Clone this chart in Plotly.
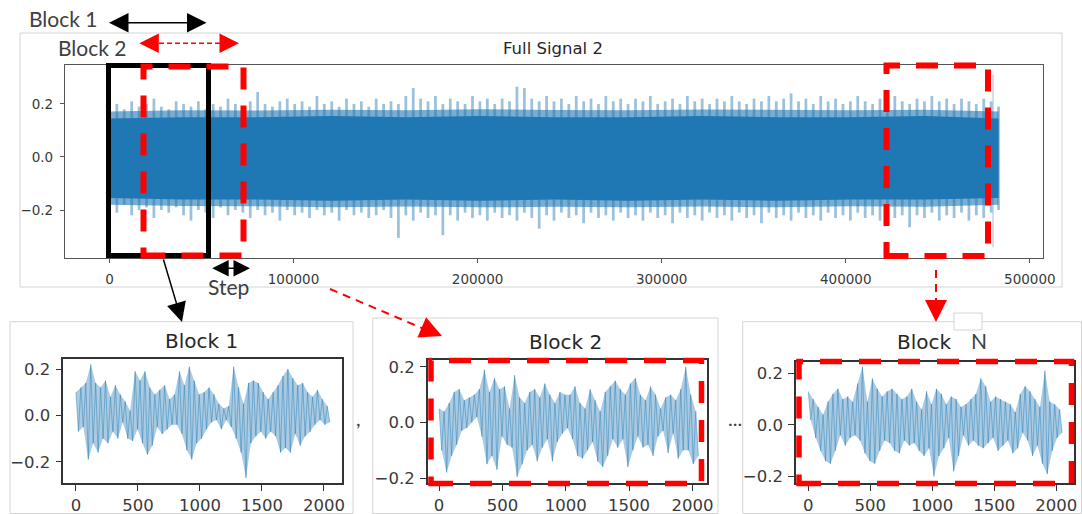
import numpy as np
import plotly.graph_objects as go

W, H = 1082, 514

# ---------------- data ----------------
n_samples = 483000
full_upper = [0.19, 0.20, 0.18, 0.21, 0.19, 0.20, 0.22, 0.19, 0.18, 0.21,
              0.20, 0.19, 0.21, 0.18, 0.20, 0.19, 0.22, 0.20, 0.19, 0.21,
              0.245, 0.20, 0.19, 0.21, 0.22, 0.20, 0.21, 0.19, 0.23, 0.20,
              0.21, 0.19, 0.22, 0.20, 0.21, 0.19, 0.22, 0.20, 0.21, 0.20,
              0.23, 0.26, 0.22, 0.21, 0.23, 0.20, 0.22, 0.21, 0.20, 0.23,
              0.21, 0.22, 0.20, 0.22, 0.21, 0.265, 0.26, 0.22, 0.21, 0.23,
              0.21, 0.22, 0.20, 0.23, 0.21, 0.22, 0.20, 0.23, 0.21, 0.22,
              0.20, 0.22, 0.21, 0.23, 0.20, 0.21, 0.22, 0.20, 0.23, 0.21,
              0.22, 0.20, 0.22, 0.21, 0.23, 0.21, 0.20, 0.22, 0.21, 0.23,
              0.21, 0.22, 0.24, 0.21, 0.22, 0.20, 0.23, 0.21, 0.22, 0.20,
              0.21, 0.23, 0.21, 0.20, 0.22, 0.21, 0.23, 0.21, 0.20, 0.22,
              0.21, 0.23, 0.21, 0.22, 0.20, 0.22, 0.21, 0.20, 0.22, 0.21,
              0.19]
full_lower = [-0.19, -0.21, -0.18, -0.22, -0.20, -0.19, -0.23, -0.20, -0.21, -0.19,
              -0.22, -0.24, -0.20, -0.21, -0.23, -0.19, -0.22, -0.20, -0.21, -0.23,
              -0.20, -0.22, -0.21, -0.24, -0.20, -0.22, -0.21, -0.23, -0.20, -0.22,
              -0.21, -0.24, -0.20, -0.22, -0.21, -0.23, -0.22, -0.20, -0.23, -0.305,
              -0.22, -0.24, -0.21, -0.23, -0.22, -0.295, -0.22, -0.24, -0.21, -0.23,
              -0.22, -0.24, -0.21, -0.23, -0.22, -0.24, -0.21, -0.23, -0.27, -0.22,
              -0.24, -0.21, -0.23, -0.22, -0.25, -0.21, -0.23, -0.22, -0.24, -0.21,
              -0.23, -0.22, -0.24, -0.21, -0.23, -0.22, -0.25, -0.21, -0.23, -0.22,
              -0.24, -0.21, -0.23, -0.22, -0.24, -0.21, -0.23, -0.22, -0.25, -0.21,
              -0.23, -0.22, -0.24, -0.21, -0.23, -0.22, -0.24, -0.21, -0.23, -0.22,
              -0.24, -0.21, -0.23, -0.22, -0.24, -0.21, -0.23, -0.22, -0.265, -0.22,
              -0.23, -0.21, -0.24, -0.22, -0.23, -0.21, -0.24, -0.22, -0.23, -0.21,
              -0.20]
fringe_upper = [0.172, 0.176, 0.175, 0.178, 0.176, 0.18, 0.177, 0.176, 0.179, 0.177, 0.176, 0.178, 0.172]
fringe_lower = [-0.18, -0.185, -0.186, -0.19, -0.187, -0.19, -0.188, -0.19, -0.187, -0.19, -0.186, -0.188, -0.18]
core_upper = [0.145, 0.15, 0.15, 0.155, 0.15, 0.155, 0.15, 0.15, 0.155, 0.15, 0.15, 0.155, 0.145]
core_lower = [-0.155, -0.16, -0.16, -0.165, -0.16, -0.165, -0.16, -0.165, -0.16, -0.165, -0.16, -0.16, -0.155]
end_spike_x = [480000, 480000]
end_spike_y = [0.31, -0.34]

block_len = 2047
block1_up = [0.10, 0.12, 0.14, 0.22, 0.14, 0.12, 0.15, 0.08, 0.13, 0.09, 0.06, 0.02, 0.19,
             0.15, 0.19, 0.12, 0.09, 0.11, 0.13, 0.07, 0.09, 0.19, 0.13, 0.21, 0.15, 0.09,
             0.10, 0.12, 0.09, 0.05, 0.03, 0.04, 0.21, 0.12, 0.05, 0.14, 0.15, 0.14, 0.10,
             0.07, 0.10, 0.13, 0.17, 0.20, 0.16, 0.13, 0.14, 0.10, 0.08, 0.11, 0.07, 0.04]
block1_lo = [-0.07, -0.05, -0.19, -0.12, -0.16, -0.10, -0.12, -0.07, -0.10, -0.03, -0.10, -0.11, -0.06,
             -0.12, -0.17, -0.13, -0.05, -0.08, -0.06, -0.04, -0.04, -0.08, -0.15, -0.19, -0.12, -0.10,
             -0.06, -0.03, -0.02, -0.06, -0.02, -0.05, -0.10, -0.16, -0.27, -0.12, -0.09, -0.07, -0.10,
             -0.07, -0.09, -0.16, -0.14, -0.16, -0.08, -0.13, -0.09, -0.07, -0.04, -0.02, -0.04, -0.03]
block2_up = [0.05, 0.04, 0.07, 0.11, 0.12, 0.08, 0.09, 0.10, 0.12, 0.19, 0.11, 0.16, 0.12,
             0.13, 0.05, 0.17, 0.09, 0.07, 0.11, 0.12, 0.09, 0.14, 0.10, 0.07, 0.11, 0.10,
             0.10, 0.13, 0.07, 0.05, 0.12, 0.08, 0.04, 0.11, 0.13, 0.15, 0.12, 0.10, 0.14,
             0.16, 0.10, 0.08, 0.13, 0.10, 0.05, 0.09, 0.10, 0.08, 0.12, 0.20, 0.10, 0.04]
block2_lo = [-0.10, -0.18, -0.12, -0.08, -0.03, -0.02, 0.00, 0.02, -0.05, -0.15, -0.12, -0.17, -0.05,
             -0.08, -0.09, -0.195, -0.15, -0.10, -0.08, -0.14, -0.09, -0.06, -0.14, -0.07, -0.04, -0.02,
             -0.06, -0.12, -0.13, -0.10, -0.07, -0.14, -0.16, -0.12, -0.06, -0.09, -0.06, -0.16, -0.10,
             -0.05, -0.09, -0.08, -0.12, -0.05, -0.03, -0.11, -0.04, -0.13, -0.10, -0.10, -0.15, -0.12]
blockN_up = [0.13, 0.10, 0.07, 0.04, 0.09, 0.12, 0.14, 0.10, 0.11, 0.09, 0.16, 0.225, 0.09,
             0.18, 0.14, 0.11, 0.13, 0.14, 0.12, 0.10, 0.11, 0.14, 0.09, 0.06, 0.13, 0.08,
             0.14, 0.12, 0.08, 0.11, 0.10, 0.07, 0.08, 0.10, 0.12, 0.18, 0.15, 0.09, 0.11,
             0.10, 0.09, 0.08, 0.05, 0.12, 0.15, 0.13, 0.10, 0.07, 0.21, 0.09, 0.08, 0.06]
blockN_lo = [0.02, -0.05, -0.10, -0.14, -0.15, -0.10, -0.04, -0.08, -0.05, -0.04, -0.06, -0.11, -0.14,
             -0.15, -0.10, -0.06, -0.07, -0.10, -0.11, -0.06, -0.08, -0.07, -0.10, -0.12, -0.09, -0.20,
             -0.12, -0.09, -0.05, -0.18, -0.12, -0.04, -0.08, -0.06, -0.08, -0.09, -0.07, -0.05, -0.10,
             -0.08, -0.06, -0.11, -0.09, -0.03, -0.06, -0.12, -0.08, -0.15, -0.19, -0.10, -0.05, -0.03]

main_xticks = [0, 100000, 200000, 300000, 400000, 500000]
yticks = [-0.2, 0.0, 0.2]
block_xticks = [0, 500, 1000, 1500, 2000]

BLUE = "#1f77b4"
RED = "#ff0000"
TICKFONT = "DejaVu Sans"
NOTEFONT = "Lato"


def X(p):
    return p / W


def Y(p):
    return 1 - p / H


fig = go.Figure()

# ---- main signal ----
mx = np.linspace(0, n_samples, len(full_upper))
cx = np.linspace(0, n_samples, len(core_upper))
for env in (full_upper, full_lower):
    fig.add_trace(go.Bar(x=mx, y=env, base=0, width=1500,
                         marker=dict(color="rgba(31,119,180,0.45)", line=dict(width=0)),
                         xaxis="x", yaxis="y", showlegend=False, hoverinfo="skip"))
fig.add_trace(go.Scatter(x=cx, y=fringe_lower, mode="lines", line=dict(width=0, color=BLUE),
                         xaxis="x", yaxis="y", showlegend=False, hoverinfo="skip"))
fig.add_trace(go.Scatter(x=cx, y=fringe_upper, mode="lines", fill="tonexty",
                         fillcolor="rgba(31,119,180,0.6)", line=dict(width=0, color=BLUE),
                         xaxis="x", yaxis="y", showlegend=False, hoverinfo="skip"))
fig.add_trace(go.Scatter(x=cx, y=core_lower, mode="lines", line=dict(width=0, color=BLUE),
                         xaxis="x", yaxis="y", showlegend=False, hoverinfo="skip"))
fig.add_trace(go.Scatter(x=cx, y=core_upper, mode="lines", fill="tonexty", fillcolor=BLUE,
                         line=dict(width=0, color=BLUE),
                         xaxis="x", yaxis="y", showlegend=False, hoverinfo="skip"))
fig.add_trace(go.Scatter(x=end_spike_x, y=end_spike_y, mode="lines",
                         line=dict(width=1, color="rgba(31,119,180,0.45)"),
                         xaxis="x", yaxis="y", showlegend=False, hoverinfo="skip"))

# ---- blocks ----
for up, lo, xa, ya in [(block1_up, block1_lo, "x2", "y2"),
                       (block2_up, block2_lo, "x3", "y3"),
                       (blockN_up, blockN_lo, "x4", "y4")]:
    yy = np.empty(2 * len(up))
    yy[0::2] = up
    yy[1::2] = lo
    xx = np.linspace(0, block_len, len(yy))
    fig.add_trace(go.Scatter(x=xx[1::2], y=lo, mode="lines", line=dict(width=0, color=BLUE),
                             xaxis=xa, yaxis=ya, showlegend=False, hoverinfo="skip"))
    fig.add_trace(go.Scatter(x=xx[0::2], y=up, mode="lines", fill="tonexty",
                             fillcolor="rgba(31,119,180,0.38)", line=dict(width=0, color=BLUE),
                             xaxis=xa, yaxis=ya, showlegend=False, hoverinfo="skip"))
    fig.add_trace(go.Scatter(x=xx, y=yy, mode="lines",
                             line=dict(width=0.8, color="rgba(31,119,180,0.55)"),
                             xaxis=xa, yaxis=ya, showlegend=False, hoverinfo="skip"))


def ax_common(size, color, lw, tl, standoff):
    return dict(showgrid=False, zeroline=False, showline=True, mirror=True,
                linecolor=color, linewidth=lw, ticks="outside", ticklen=tl,
                tickcolor=color, tickwidth=1, ticklabelstandoff=standoff, automargin=False,
                tickfont=dict(family=TICKFONT, size=size, color="#3a3a3a"))


layout = dict(
    width=W, height=H, autosize=False,
    margin=dict(l=0, r=0, t=0, b=0, pad=0, autoexpand=False),
    paper_bgcolor="white", plot_bgcolor="white", showlegend=False, barmode="overlay",
    xaxis=dict(domain=[X(65), X(1043)], anchor="y", range=[-24150, 507150],
               tickvals=main_xticks, tickformat="d", **ax_common(13.5, "#555", 1.2, 4, 5)),
    yaxis=dict(domain=[Y(258), Y(65)], anchor="x", range=[-0.381, 0.347],
               tickvals=yticks, tickformat=".1f", **ax_common(13.5, "#555", 1.2, 4, 4)),
    xaxis2=dict(domain=[X(63.3), X(341.7)], anchor="y2", range=[-102, 2143],
                tickvals=block_xticks, tickformat="d", **ax_common(16.5, "#333", 1.5, 6, 0)),
    yaxis2=dict(domain=[Y(483.3), Y(359.3)], anchor="x2", range=[-0.293, 0.242],
                tickvals=yticks, tickformat=".1f", **ax_common(16.5, "#333", 1.5, 6, 2)),
    xaxis3=dict(domain=[X(427.7), X(706.7)], anchor="y3", range=[-90, 2113],
                tickvals=block_xticks, tickformat="d", **ax_common(16.5, "#333", 1.5, 6, 0)),
    yaxis3=dict(domain=[Y(483.3), Y(360)], anchor="x3", range=[-0.219, 0.225],
                tickvals=yticks, tickformat=".1f", **ax_common(16.5, "#333", 1.5, 6, 2)),
    xaxis4=dict(domain=[X(796), X(1074)], anchor="y4", range=[-99, 2143],
                tickvals=block_xticks, tickformat="d", **ax_common(16.5, "#333", 1.5, 6, 0)),
    yaxis4=dict(domain=[Y(483.3), Y(361.7)], anchor="x4", range=[-0.226, 0.245],
                tickvals=yticks, tickformat=".1f", **ax_common(16.5, "#333", 1.5, 6, 2)),
)
fig.update_layout(**layout)

shapes = []


def rect(x0, y0, x1, y1, color, width, dash="solid", fill=None, layer="above"):
    shapes.append(dict(type="rect", xref="paper", yref="paper",
                       x0=X(x0), x1=X(x1), y0=Y(y1), y1=Y(y0),
                       line=dict(color=color, width=width, dash=dash),
                       fillcolor=fill if fill else "rgba(0,0,0,0)", layer=layer))


def line(x0, y0, x1, y1, color, width, dash="solid"):
    shapes.append(dict(type="line", xref="paper", yref="paper",
                       x0=X(x0), x1=X(x1), y0=Y(y0), y1=Y(y1),
                       line=dict(color=color, width=width, dash=dash)))


# light figure frames
rect(20, 33, 1062, 287, "#d4d4d4", 1, layer="below")
rect(10, 321.7, 353, 513.5, "#d4d4d4", 1, layer="below")
rect(372.7, 318, 718, 513.5, "#d4d4d4", 1, layer="below")
rect(742.7, 321.7, 1081.5, 513.5, "#d4d4d4", 1, layer="below")
rect(954, 313, 982, 330, "#d4d4d4", 1, fill="white", layer="below")

# window boxes
rect(108.5, 65.5, 208.5, 255.5, "black", 5)
rect(143.5, 66.5, 243.5, 255.5, RED, 6, dash="22px,16px")
rect(886.5, 65.5, 988, 256, RED, 6, dash="22px,16px")
rect(431, 360.5, 701.5, 483.5, RED, 5.5, dash="22px,17px")
rect(799, 361.5, 1071.5, 483.5, RED, 5.5, dash="22px,17px")

# dashed arrow shafts
line(151, 43.3, 228, 43.3, RED, 1.5, dash="5px,3px")
line(330, 289, 430, 331.5, RED, 2, dash="8px,6px")
line(936, 270, 936, 310, RED, 2, dash="8px,6px")

fig.update_layout(shapes=shapes)

ann = []


def text(x, y, s, size, family, color="#404040"):
    ann.append(dict(x=X(x), y=Y(y), xref="paper", yref="paper", text=s, showarrow=False,
                    xanchor="center", yanchor="middle",
                    font=dict(family=family, size=size, color=color)))


def arrow(x_tip, y_tip, x_tail, y_tail, color, width, size, both=False):
    a = dict(x=X(x_tip), y=Y(y_tip), xref="paper", yref="paper", text="",
             showarrow=True, ax=x_tail - x_tip, ay=y_tail - y_tip,
             axref="pixel", ayref="pixel", arrowcolor=color, arrowwidth=width,
             arrowhead=2, arrowsize=size, standoff=0, startstandoff=0)
    if both:
        a.update(arrowside="end+start", startarrowhead=2, startarrowsize=size)
    ann.append(a)


text(553, 48, "Full Signal 2", 16.5, TICKFONT, "#262626")
text(201.7, 341, "Block 1", 20, TICKFONT, "#262626")
text(565.5, 342, "Block 2", 20, TICKFONT, "#262626")
text(924.5, 342, "Block", 20, TICKFONT, "#262626")
text(978.5, 340, "N", 21, NOTEFONT)
text(63, 19, "Block 1", 21, NOTEFONT)
text(92, 47, "Block 2", 21, NOTEFONT)
text(228.5, 286, "Step", 21, NOTEFONT)
text(358, 418, ",", 20, NOTEFONT)
text(735, 418, "...", 20, NOTEFONT)

arrow(206.5, 22.7, 107.5, 22.7, "black", 1.5, 2.6, both=True)
arrow(250, 268.3, 210.7, 268.3, "black", 1.5, 2.2, both=True)
arrow(182, 322, 163, 258, "black", 1.5, 2.6)
# red arrow heads (shafts drawn as dashed shapes)
arrow(139.3, 43.3, 153, 43.3, RED, 1.5, 2.6)
arrow(239, 43.3, 225, 43.3, RED, 1.5, 2.6)
arrow(442, 336, 428, 330, RED, 2, 2.2)
arrow(936, 322, 936, 308, RED, 2, 2.2)

fig.update_layout(annotations=ann)

fig.write_html("out.html", config={"displayModeBar": False},
               post_script="document.body.style.margin='0';document.body.style.overflow='hidden';")
